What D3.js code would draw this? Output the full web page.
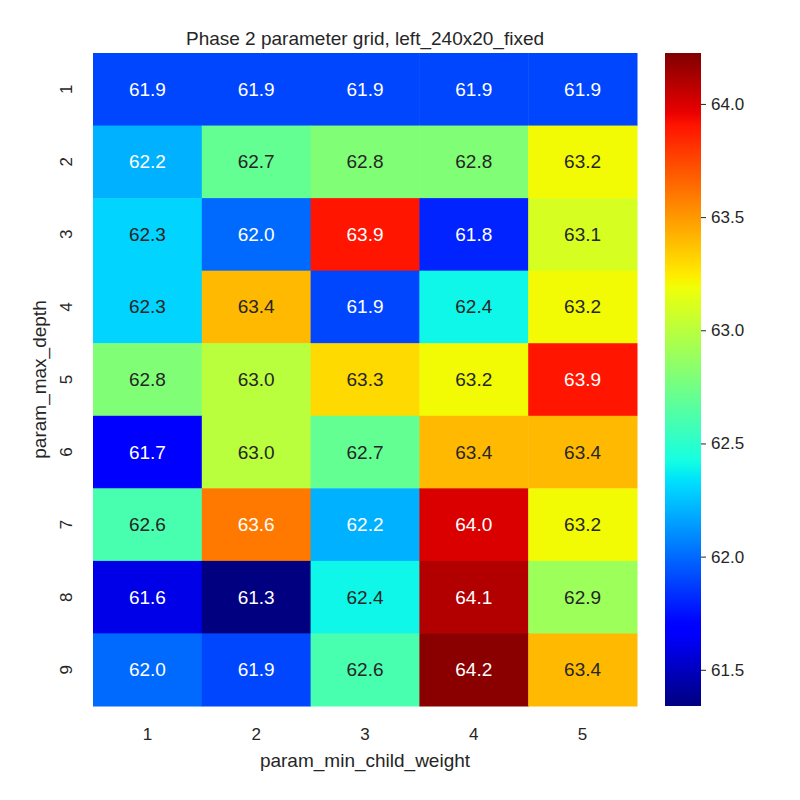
<!DOCTYPE html>
<html>
<head>
<meta charset="UTF-8">
<script src="https://d3js.org/d3.v7.min.js"></script>
<style>
  body { margin: 0; background: #fff; }
  text { font-family: "Liberation Sans", Arial, sans-serif; fill: #262626; }
</style>
</head>
<body>
<svg id="chart" width="800" height="800"></svg>
<script>
const rowLabels = ["1", "2", "3", "4", "5", "6", "7", "8", "9"];
const colLabels = ["1", "2", "3", "4", "5"];
const values = [
  [61.9, 61.9, 61.9, 61.9, 61.9],
  [62.2, 62.7, 62.8, 62.8, 63.2],
  [62.3, 62.0, 63.9, 61.8, 63.1],
  [62.3, 63.4, 61.9, 62.4, 63.2],
  [62.8, 63.0, 63.3, 63.2, 63.9],
  [61.7, 63.0, 62.7, 63.4, 63.4],
  [62.6, 63.6, 62.2, 64.0, 63.2],
  [61.6, 61.3, 62.4, 64.1, 62.9],
  [62.0, 61.9, 62.6, 64.2, 63.4]
];
const cbTicks = [61.5, 62.0, 62.5, 63.0, 63.5, 64.0];
const vmin = 61.34, vmax = 64.225;

// matplotlib jet
const rS = d3.scaleLinear().domain([0, 0.35, 0.66, 0.89, 1]).range([0, 0, 1, 1, 0.5]).clamp(true);
const gS = d3.scaleLinear().domain([0, 0.125, 0.375, 0.64, 0.91, 1]).range([0, 0, 1, 1, 0, 0]).clamp(true);
const bS = d3.scaleLinear().domain([0, 0.11, 0.34, 0.65, 1]).range([0.5, 1, 1, 0, 0]).clamp(true);
const norm = d3.scaleLinear().domain([vmin, vmax]).range([0, 1]).clamp(true);
function jet(t) { return [rS(t), gS(t), bS(t)]; }
function color(v) { const c = jet(norm(v)); return d3.rgb(c[0]*255, c[1]*255, c[2]*255).toString(); }
function lum(v) {
  const c = jet(norm(v)).map(x => x <= 0.03928 ? x / 12.92 : Math.pow((x + 0.055) / 1.055, 2.4));
  return 0.2126*c[0] + 0.7152*c[1] + 0.0722*c[2];
}

const svg = d3.select("#chart");
const pLeft = 93, pRight = 637, pTop = 53, pBottom = 706;
const x = d3.scaleBand().domain(colLabels).range([pLeft, pRight]);
const y = d3.scaleBand().domain(rowLabels).range([pTop, pBottom]);

const cells = [];
values.forEach((row, i) => row.forEach((v, j) => cells.push({ r: rowLabels[i], c: colLabels[j], v })));

svg.selectAll("rect.cell").data(cells).enter().append("rect")
  .attr("x", d => x(d.c)).attr("y", d => y(d.r))
  .attr("width", x.bandwidth() + 0.5).attr("height", y.bandwidth() + 0.5)
  .attr("fill", d => color(d.v));

svg.selectAll("text.ann").data(cells).enter().append("text")
  .attr("x", d => x(d.c) + x.bandwidth() / 2).attr("y", d => y(d.r) + y.bandwidth() / 2)
  .attr("text-anchor", "middle").attr("dominant-baseline", "central")
  .style("font-size", "19px")
  .style("fill", d => lum(d.v) > 0.408 ? "#262626" : "#ffffff")
  .text(d => d.v.toFixed(1));

// x ticks
svg.selectAll("text.xt").data(colLabels).enter().append("text")
  .attr("x", d => x(d) + x.bandwidth() / 2).attr("y", 740)
  .attr("text-anchor", "middle").style("font-size", "17px").text(d => d);
// y ticks
svg.selectAll("text.yt").data(rowLabels).enter().append("text")
  .attr("transform", d => `translate(72,${y(d) + y.bandwidth() / 2}) rotate(-90)`)
  .attr("text-anchor", "middle").style("font-size", "17px").text(d => d);

svg.append("text").attr("x", (pLeft + pRight) / 2).attr("y", 767)
  .attr("text-anchor", "middle").style("font-size", "19px").text("param_min_child_weight");
svg.append("text").attr("transform", `translate(46,${(pTop + pBottom) / 2}) rotate(-90)`)
  .attr("text-anchor", "middle").style("font-size", "19px").text("param_max_depth");
svg.append("text").attr("x", (pLeft + pRight) / 2).attr("y", 45)
  .attr("text-anchor", "middle").style("font-size", "19px").text("Phase 2 parameter grid, left_240x20_fixed");

// colorbar
const cbX = 665, cbW = 36;
const cy = d3.scaleLinear().domain([vmin, vmax]).range([pBottom, pTop]);
const defs = svg.append("defs");
const grad = defs.append("linearGradient").attr("id", "jetgrad")
  .attr("x1", "0%").attr("y1", "100%").attr("x2", "0%").attr("y2", "0%");
grad.selectAll("stop").data(d3.range(0, 1.001, 0.01)).enter().append("stop")
  .attr("offset", d => (d * 100) + "%")
  .attr("stop-color", d => { const c = jet(d); return d3.rgb(c[0]*255, c[1]*255, c[2]*255).toString(); });
svg.append("rect").attr("x", cbX).attr("y", pTop).attr("width", cbW).attr("height", pBottom - pTop)
  .attr("fill", "url(#jetgrad)");

const axis = d3.axisRight(cy).tickValues(cbTicks).tickFormat(d3.format(".1f")).tickSize(5).tickPadding(5);
const g = svg.append("g").attr("transform", `translate(${cbX + cbW},0)`).call(axis);
g.select(".domain").remove();
g.selectAll("line").attr("stroke", "#262626");
g.selectAll("text").style("font-size", "17px").style("fill", "#262626")
  .attr("font-family", "Liberation Sans, Arial, sans-serif");
</script>
</body>
</html>
